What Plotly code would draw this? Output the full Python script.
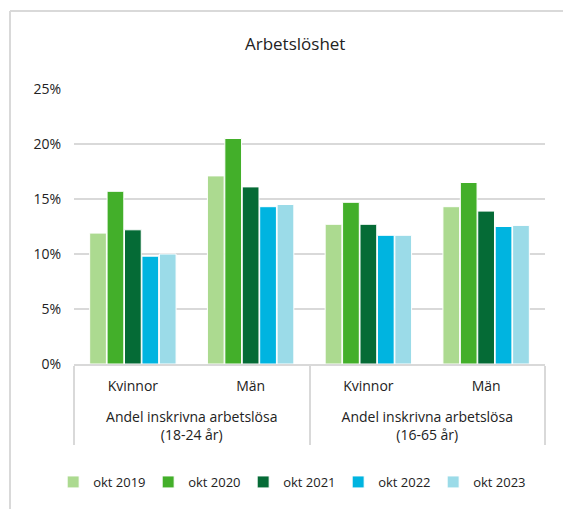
import plotly.graph_objects as go

# grupper och kategorier
groups = ["<br>Andel inskrivna arbetslösa<br>(18-24 år)"] * 2 + ["<br>Andel inskrivna arbetslösa<br>(16-65 år)"] * 2
genders = ["Kvinnor", "Män", "Kvinnor", "Män"]

years = ["okt 2019", "okt 2020", "okt 2021", "okt 2022", "okt 2023"]
colors = ["#acda90", "#43af2a", "#056b36", "#00b4e0", "#9bdbe8"]

okt2019 = [0.119, 0.171, 0.127, 0.143]
okt2020 = [0.157, 0.205, 0.147, 0.165]
okt2021 = [0.122, 0.161, 0.127, 0.139]
okt2022 = [0.098, 0.143, 0.117, 0.125]
okt2023 = [0.100, 0.145, 0.117, 0.126]
values = [okt2019, okt2020, okt2021, okt2022, okt2023]

fnt = "Open Sans"

fig = go.Figure()
for name, col, vals in zip(years, colors, values):
    fig.add_trace(go.Bar(
        x=[groups, genders], y=vals, name=name,
        marker=dict(color=col, line=dict(color="white", width=1)),
    ))

# sidan har 8px marginal i webbläsaren, därför är allt flyttat 8px
fig.update_layout(
    width=571, height=509,
    margin=dict(l=66, r=34, t=81, b=153),
    paper_bgcolor="white", plot_bgcolor="white",
    barmode="group", bargap=0.26, bargroupgap=0.04,
    font=dict(family=fnt, size=13, color="#222"),
    title=dict(text="Arbetslöshet", x=0.503, xanchor="center", y=0.929, yanchor="middle",
               font=dict(size=17, color="#222")),
    showlegend=True,
    legend=dict(orientation="h", x=0.46, xanchor="center", y=-0.429, yanchor="middle",
                font=dict(size=13), itemwidth=30, traceorder="normal",
                entrywidth=50, entrywidthmode="pixels"),
)
fig.update_yaxes(range=[0, 0.25], dtick=0.05, tickformat=".0%", showgrid=True,
                 gridcolor="#d9d9d9", gridwidth=2, zeroline=False, ticks="",
                 ticklabelstandoff=12, tickfont=dict(size=14))
fig.update_xaxes(type="multicategory", showline=True, linecolor="#d9d9d9", linewidth=2,
                 showdividers=True, dividercolor="#d9d9d9", dividerwidth=2,
                 tickfont=dict(size=14), ticks="", ticklabelstandoff=8)

# ramen runt diagrammet
fig.add_shape(type="line", xref="paper", yref="paper", x0=-0.1359, x1=-0.1359, y0=1.2836, y1=-0.56,
              line=dict(color="#d9d9d9", width=2))
fig.add_shape(type="line", xref="paper", yref="paper", x0=-0.1359, x1=1.1, y0=1.2836, y1=1.2836,
              line=dict(color="#d9d9d9", width=2))

fig.write_html("out.html")
